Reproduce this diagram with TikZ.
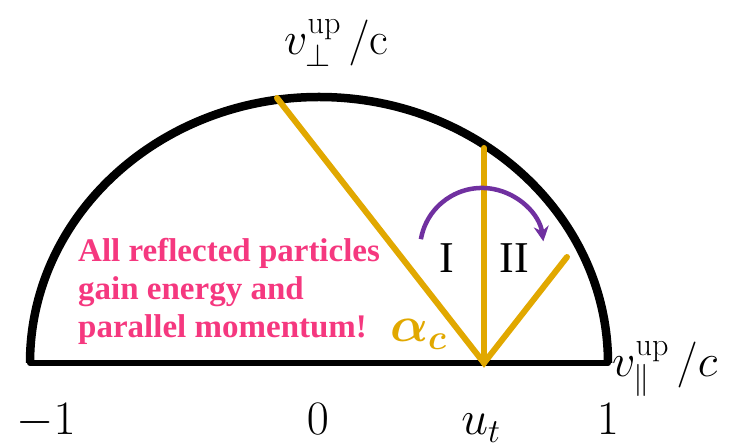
\documentclass[tikz,border=0pt]{standalone}
\usepackage{fix-cm}
\usepackage{bm}
\usepackage{fontspec}
\newfontfamily\serifr{Liberation Serif}
\newfontfamily\serifbd{Liberation Serif Bold}
\usetikzlibrary{arrows.meta}
\definecolor{gold}{HTML}{E1A800}
\definecolor{violet2}{HTML}{7030A0}
\definecolor{hotpink}{HTML}{F5387F}
\newcommand{\upsup}{\raisebox{5pt}{$\scriptstyle\mathrm{up}$}}
\tikzset{
  axisline/.style={line width=6pt, line cap=round},
  shell/.style={line width=8.5pt},
  ray/.style={gold, line width=6pt, line cap=round, line join=miter},
  turn/.style={violet2, line width=4.5pt, -{Stealth[length=15pt,width=15pt]}},
  pinktext/.style={anchor=base west, inner sep=0pt, text=hotpink, font=\serifbd\fontsize{33}{38}\selectfont},
  region/.style={anchor=base, inner sep=0pt, font=\serifr\fontsize{44}{44}\selectfont},
  mlabel/.style={inner sep=0pt, font=\fontsize{46}{46}\selectfont},
  tick/.style={anchor=base, inner sep=0pt, font=\fontsize{48}{48}\selectfont}
}
\begin{document}
\begin{tikzpicture}[x=1pt,y=1pt]
\useasboundingbox (0,0) rectangle (739,444);
\coordinate (L) at (30,81);
\coordinate (R) at (608,81);
\coordinate (O) at (484,81);
\coordinate (A) at (277,346);
\coordinate (V) at (484,296);
\coordinate (B) at (567,187);
\coordinate (P0) at (420.9,204.8);
% half circle and axis
\draw[shell] (R) arc[start angle=0, end angle=180, x radius=289, y radius=266];
\draw[axisline] (L) -- (R);
% rays
\draw[ray] (A) -- (O) -- (B);
\draw[ray] (O) -- (V);
% rotation arrow
\draw[turn] (P0) arc[start angle=170, end angle=8, radius=62];
% region labels
\node[region] (rI) at (447,171) {I};
\node[region] (rII) at (514,171) {II};
% pink text
\node[pinktext] (t1) at (78,182) {All reflected particles};
\node[pinktext] (t2) at (78,144) {gain energy and};
\node[pinktext] (t3) at (78,106) {parallel momentum!};
% alpha_c
\node[mlabel, anchor=base west, text=gold, font=\fontsize{50}{50}\selectfont] (al) at (390,102) {$\bm{\alpha_c}$};
% axis labels
\node[mlabel, anchor=base west] (yl) at (284,389) {$v_{\perp}^{\upsup}\,/\mathrm{c}$};
\node[mlabel, anchor=base west] (xl) at (612,67) {$v_{\parallel}^{\upsup}\,/c$};
% ticks
\node[tick] (m1) at (46,9) {$-1$};
\node[tick] (z0) at (318,9) {$0$};
\node[tick] (ut) at (481,9) {$u_t$};
\node[tick] (p1) at (608,9) {$1$};
\end{tikzpicture}
\end{document}
